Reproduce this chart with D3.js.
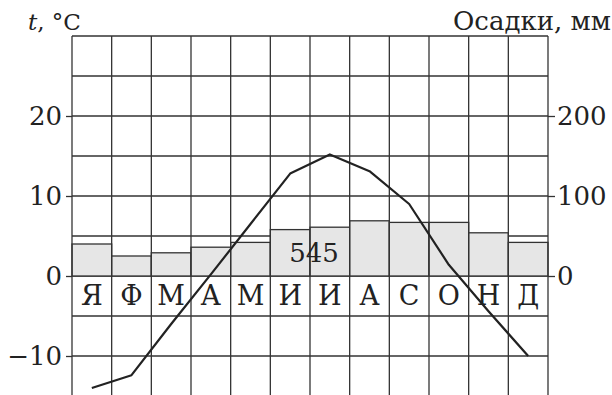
<!DOCTYPE html>
<html>
<head>
<meta charset="utf-8">
<script src="https://cdn.jsdelivr.net/npm/d3@7"></script>
<style>
  body { margin: 0; background: #fff; }
  text { font-family: "DejaVu Serif", serif; fill: #222; }
</style>
</head>
<body>
<div class="canvas"></div>
<script>
const months = ['Я', 'Ф', 'М', 'А', 'М', 'И', 'И', 'А', 'С', 'О', 'Н', 'Д'];
const temps = [-14, -12.4, -6, 0.2, 6.5, 12.8, 15.2, 13.1, 9, 1.4, -4.4, -10];
const precip = [40, 25, 29, 36, 42, 58, 61, 69, 67, 67, 54, 42];
const tempTicks = [-10, 0, 10, 20];
const precipTicks = [0, 100, 200];
const gridLines = [-15, -10, -5, 0, 5, 10, 15, 20, 25, 30];
const total = 545;

const dims = {width: 612, height: 395};

const svg = d3.select('.canvas')
.append('svg')
.attr('width', dims.width)
.attr('height', dims.height);

// scales
const x = d3.scaleBand()
.domain(d3.range(12))
.range([72, 548]);

const yT = d3.scaleLinear()
.domain([-15, 30])
.range([396, 36]);

const yP = d3.scaleLinear()
.domain([-150, 300])
.range([396, 36]);

const lineColor = '#333';

// horizontal grid
svg.append('g')
.selectAll('line')
.data(gridLines)
.enter()
.append('line')
.attr('x1', 72)
.attr('x2', 548)
.attr('y1', d => yT(d))
.attr('y2', d => yT(d))
.attr('stroke', lineColor)
.attr('stroke-width', 1.3);

// precipitation bars
svg.append('g')
.selectAll('rect')
.data(precip)
.enter()
.append('rect')
.attr('x', (d, i) => x(i))
.attr('width', x.bandwidth())
.attr('y', d => yP(d))
.attr('height', d => yP(0) - yP(d))
.attr('fill', '#e6e6e6')
.attr('stroke', lineColor)
.attr('stroke-width', 1.3);

// vertical grid
svg.append('g')
.selectAll('line')
.data(d3.range(13))
.enter()
.append('line')
.attr('x1', d => 72 + d * x.bandwidth())
.attr('x2', d => 72 + d * x.bandwidth())
.attr('y1', yT(30))
.attr('y2', yT(-15))
.attr('stroke', lineColor)
.attr('stroke-width', 1.3);

// month labels
svg.append('g')
.selectAll('text')
.data(months)
.enter()
.append('text')
.attr('x', (d, i) => x(i) + x.bandwidth() / 2)
.attr('y', 305)
.attr('text-anchor', 'middle')
.style('font-size', '27px')
.text(d => d);

// axes
const leftAxis = d3.axisLeft(yT)
.tickValues(tempTicks)
.tickSize(6)
.tickPadding(4)
.tickFormat(d => d < 0 ? '\u2212' + Math.abs(d) : d);

const rightAxis = d3.axisRight(yP)
.tickValues(precipTicks)
.tickSize(7)
.tickPadding(2);

const gl = svg.append('g')
.attr('transform', 'translate(72, 0)')
.call(leftAxis);

const gr = svg.append('g')
.attr('transform', 'translate(548, 0)')
.call(rightAxis);

[gl, gr].forEach(g => {
    g.select('.domain').remove();
    g.selectAll('line').attr('stroke', lineColor).attr('stroke-width', 1.3);
    g.selectAll('text')
    .attr('fill', '#222')
    .style('font-family', '"DejaVu Serif", serif')
    .style('font-size', '26px');
});

// temperature line
const line = d3.line()
.x((d, i) => x(i) + x.bandwidth() / 2)
.y(d => yT(d));

svg.append('path')
.datum(temps)
.attr('fill', 'none')
.attr('stroke', '#222')
.attr('stroke-width', 2.2)
.attr('stroke-linejoin', 'round')
.attr('d', line);

// total precipitation
svg.append('text')
.attr('x', x(6) + 4)
.attr('y', 262)
.attr('text-anchor', 'middle')
.style('font-size', '26px')
.text(total);

// titles
const tTitle = svg.append('text')
.attr('x', 28)
.attr('y', 30)
.style('font-size', '23px');
tTitle.append('tspan').style('font-style', 'italic').text('t');
tTitle.append('tspan').text(', \u00B0C');

svg.append('text')
.attr('x', 611)
.attr('y', 30)
.attr('text-anchor', 'end')
.style('font-size', '26px')
.text('Осадки, мм');
</script>
</body>
</html>
